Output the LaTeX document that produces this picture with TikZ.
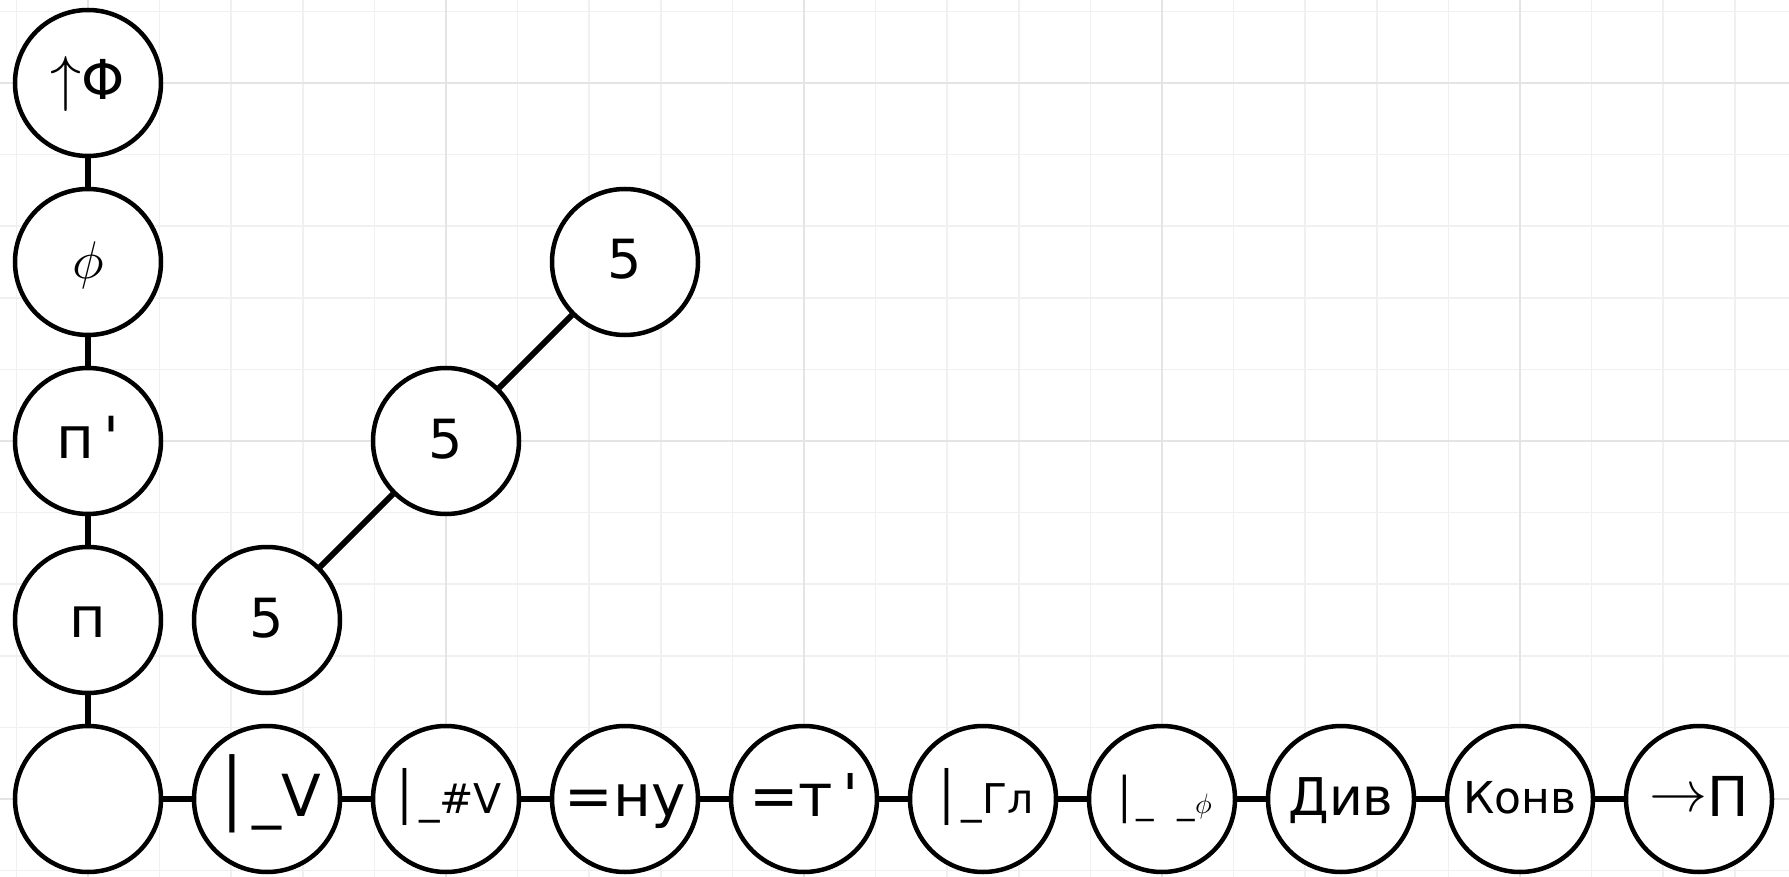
\documentclass[tikz,border=0pt]{standalone}
\usepackage{graphicx}
\usepackage{fontspec}
\setmainfont{DejaVu Sans}[Ligatures=TeXOff]
\newcommand\setfs[1]{\fontsize{#1}{#1}\selectfont}
\newcommand\vbar[1]{{\setfs{#1}│}}
\newcommand\bigmath[2]{\scalebox{#1}{\fontsize{10}{12}\selectfont$#2$}}
\definecolor{gridminor}{RGB}{240,240,240}
\definecolor{gridmajor}{RGB}{228,228,228}
\begin{document}
\begin{tikzpicture}[x=1pt,y=-1pt,
  ball/.style={circle,draw=black,line width=4.5pt,fill=white,minimum size=146pt,inner sep=0pt,text height=34pt,text depth=0pt},
  smallball/.style={ball,text height=28pt},
  link/.style={line width=6pt},
  minorline/.style={line width=1.5pt,draw=gridminor},
  majorline/.style={line width=1.5pt,draw=gridmajor}]
\useasboundingbox (0,0) rectangle (1789,877);
\fill[white] (0,0) rectangle (1789,877);
% grid
\foreach \k in {-1,...,23} {\draw[minorline] ({88+71.6*\k},0) -- ({88+71.6*\k},877);}
\foreach \k in {-1,...,11} {\draw[minorline] (0,{83+71.6*\k}) -- (1789,{83+71.6*\k});}
\foreach \k in {0,5,...,20} {\draw[majorline] ({88+71.6*\k},0) -- ({88+71.6*\k},877);}
\foreach \k in {0,5,10} {\draw[majorline] (0,{83+71.6*\k}) -- (1789,{83+71.6*\k});}
% vertical column
\node[ball] (v0) at (88,83) {\bigmath{6.2}{\uparrow}\setfs{55}Φ};
\node[ball] (v1) at (88,262) {\bigmath{5.3}{\phi}};
\node[ball] (v2) at (88,441) {\setfs{58}п\,'};
\node[ball] (v3) at (88,620) {\setfs{56}п};
\node[ball] (h0) at (88,799) {};
% diagonal
\node[ball] (d1) at (267,620) {\setfs{54}5};
\node[ball] (d2) at (446,441) {\setfs{54}5};
\node[ball] (d3) at (625,262) {\setfs{54}5};
% horizontal row
\node[ball] (h1) at (267,799) {\vbar{66}\setfs{58}\_V};
\node[smallball] (h2) at (446,799) {\vbar{48}\setfs{41}\_\#V};
\node[ball] (h3) at (625,799) {\setfs{58}=ну};
\node[ball] (h4) at (804,799) {\setfs{59}=т\,'};
\node[smallball] (h5) at (983,799) {\vbar{48}\setfs{41}\_Гл};
\node[smallball] (h6) at (1162,799) {\vbar{41}\setfs{35}\_\hspace{0.66em}\_\bigmath{2.8}{\phi}};
\node[ball,text height=32pt] (h7) at (1341,799) {\setfs{52}Див};
\node[smallball] (h8) at (1520,799) {\setfs{44}Конв};
\node[ball] (h9) at (1699,799) {\raisebox{4.5pt}{\bigmath{5.8}{\rightarrow}}\setfs{55}П};
% connectors
\draw[link] (v0) -- (v1);
\draw[link] (v1) -- (v2);
\draw[link] (v2) -- (v3);
\draw[link] (v3) -- (h0);
\draw[link] (d1) -- (d2);
\draw[link] (d2) -- (d3);
\draw[link] (h0) -- (h1);
\draw[link] (h1) -- (h2);
\draw[link] (h2) -- (h3);
\draw[link] (h3) -- (h4);
\draw[link] (h4) -- (h5);
\draw[link] (h5) -- (h6);
\draw[link] (h6) -- (h7);
\draw[link] (h7) -- (h8);
\draw[link] (h8) -- (h9);
\end{tikzpicture}
\end{document}
